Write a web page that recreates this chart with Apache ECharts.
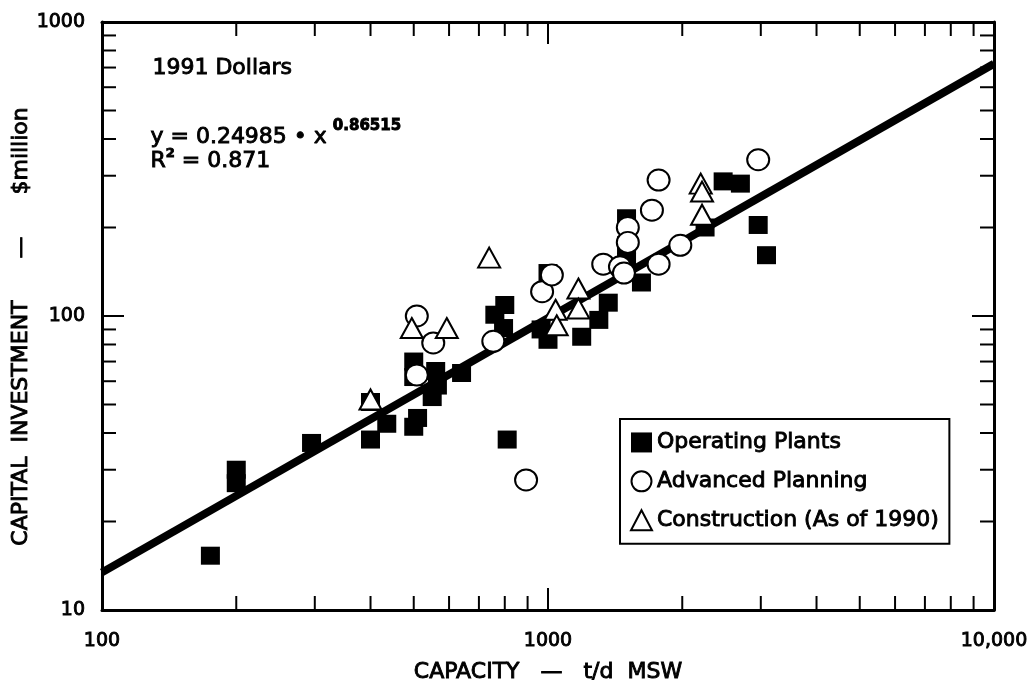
<!DOCTYPE html>
<html>
<head>
<meta charset="utf-8">
<script src="https://cdn.jsdelivr.net/npm/echarts@6/dist/echarts.min.js"></script>
<style>
  html, body { margin: 0; padding: 0; background: #fff; }
  #chart { width: 1027px; height: 688px; }
</style>
</head>
<body>
<div id="chart"></div>
<script>
// Capacity (t/d MSW) vs capital investment ($million), 1991 dollars
const operatingPlants = [
  [175, 15.3], [200, 30], [200, 27], [295, 37], [400, 38], [400, 51],
  [435, 43], [500, 42], [510, 45], [500, 70], [500, 62], [560, 65],
  [550, 53], [565, 58], [640, 64], [760, 101], [800, 109], [795, 91],
  [810, 38], [1000, 140], [965, 90], [1000, 83], [1190, 85], [1300, 97],
  [1365, 111], [1500, 215], [1500, 174], [1500, 153], [1620, 130],
  [2250, 200], [2470, 287], [2700, 282], [2960, 204], [3090, 161]
];
const advancedPlanning = [
  [508, 100], [508, 63], [553, 81], [754, 82], [893, 27.7], [970, 121],
  [1020, 138], [1330, 150], [1450, 147], [1480, 140], [1510, 200],
  [1510, 178], [1710, 229], [1770, 290], [1770, 150], [1980, 174], [2960, 340]
];
const construction = [
  [400, 52], [495, 91], [593, 91], [738, 158], [1040, 105], [1046, 93],
  [1170, 124], [1170, 106], [2200, 282], [2215, 265], [2215, 221]
];

// Power-law fit printed on the chart: y = a * x^b
const FIT_A = 0.24985;
const FIT_B = 0.86515;
const FIT_R2 = '0.871';

const xRange = [100, 10000];
const yRange = [10, 1000];
const xMinorTicks = [200, 300, 400, 500, 600, 700, 800, 900,
                     2000, 3000, 4000, 5000, 6000, 7000, 8000, 9000];
const yMinorTicks = [20, 30, 40, 50, 60, 70, 80, 90,
                     200, 300, 400, 500, 600, 700, 800, 900];

const seriesNames = ['Operating Plants', 'Advanced Planning', 'Construction (As of 1990)'];

const FONT = 'DejaVu Sans, Verdana, sans-serif';
// thin outline in the text colour gives the heavier type weight
const INK = { color: '#000', fontFamily: FONT, textBorderColor: '#000', textBorderWidth: 0.9 };

const fitLine = xRange.map(x => [x, FIT_A * Math.pow(x, FIT_B)]);

const minorTickData = xMinorTicks.map(v => [v, yRange[0], 0])
  .concat(yMinorTicks.map(v => [xRange[0], v, 1]));

const chart = echarts.init(document.getElementById('chart'), null, { renderer: 'canvas' });

function axisCommon(extra) {
  return Object.assign({
    type: 'log',
    logBase: 10,
    axisLine: { show: true, onZero: false, lineStyle: { color: '#000', width: 3 } },
    axisTick: { show: true, inside: true, length: 22, lineStyle: { color: '#000', width: 2 } },
    splitLine: { show: false },
    minorTick: { show: false },
    axisLabel: { show: false }
  }, extra);
}

const textEl = (left, top, text, rich) => ({
  type: 'text', left: left, top: top, z: 10,
  style: Object.assign({ text: text, fill: '#000', stroke: '#000', lineWidth: 0.9,
                         font: '22px ' + FONT }, rich ? { rich: rich } : {})
});

const eqRich = {
  a: { fontSize: 22, fontFamily: FONT, fill: '#000', lineHeight: 30, verticalAlign: 'bottom' },
  b: { fontSize: 15, fontFamily: FONT, fontWeight: 'bold', fill: '#000', lineHeight: 30,
       verticalAlign: 'top', padding: [0, 0, 0, 6] }
};
const r2Rich = {
  a: { fontSize: 22, fontFamily: FONT, fill: '#000', lineHeight: 25, verticalAlign: 'bottom' },
  b: { fontSize: 13, fontFamily: FONT, fontWeight: 'bold', fill: '#000', lineHeight: 25,
       verticalAlign: 'top' }
};

const option = {
  animation: false,
  backgroundColor: '#fff',
  grid: { left: 102, right: 33, top: 22, bottom: 78, containLabel: false, outerBoundsMode: 'none' },
  xAxis: [
    axisCommon({
      position: 'bottom', min: xRange[0], max: xRange[1],
      name: 'CAPACITY   —   t/d  MSW', nameLocation: 'middle', nameGap: 51,
      nameTextStyle: Object.assign({ fontSize: 22 }, INK),
      axisLabel: Object.assign({
        show: true, margin: 22, fontSize: 19,
        formatter: v => v >= 10000 ? '10,000' : String(v)
      }, INK)
    }),
    axisCommon({ position: 'top', min: xRange[0], max: xRange[1] })
  ],
  yAxis: [
    axisCommon({
      position: 'left', min: yRange[0], max: yRange[1],
      name: 'CAPITAL  INVESTMENT      —      $million   ', nameLocation: 'middle', nameGap: 70,
      nameRotate: 90, nameMoveOverlap: false,
      nameTextStyle: Object.assign({ fontSize: 22 }, INK),
      axisLabel: Object.assign({ show: true, margin: 17, fontSize: 19,
                                 formatter: v => String(v) }, INK)
    }),
    axisCommon({ position: 'right', min: yRange[0], max: yRange[1] })
  ],
  legend: {
    orient: 'vertical',
    left: 620, top: 419,
    padding: [12, 10, 12, 10],
    itemGap: 16,
    itemWidth: 21, itemHeight: 20,
    borderColor: '#000', borderWidth: 2,
    backgroundColor: '#fff',
    data: seriesNames,
    textStyle: Object.assign({ fontSize: 22, padding: [0, 0, 0, 0] }, INK),
    selectedMode: false
  },
  graphic: [
    textEl(152, 57, '1991 Dollars'),
    textEl(150, 118, '{a|y = 0.24985 • x}{b|' + FIT_B + '}', eqRich),
    textEl(150, 147, '{a|R}{b|2}{a| = ' + FIT_R2 + '}', r2Rich)
  ],
  series: [
    {
      type: 'line', name: 'fit', data: fitLine, xAxisIndex: 0, yAxisIndex: 0,
      showSymbol: false, symbol: 'none', silent: true, z: 1,
      lineStyle: { color: '#000', width: 8 }
    },
    {
      type: 'custom', name: 'minorTicks', data: minorTickData, silent: true, z: 5,
      clip: false,
      encode: { x: 0, y: 1 },
      renderItem: function (params, api) {
        const cs = params.coordSys;
        const kind = api.value(2);
        const L = 14;
        const st = { stroke: '#000', lineWidth: 2 };
        if (kind === 0) {
          const px = api.coord([api.value(0), yRange[0]])[0];
          return { type: 'group', children: [
            { type: 'line', shape: { x1: px, y1: cs.y + cs.height, x2: px, y2: cs.y + cs.height - L }, style: st },
            { type: 'line', shape: { x1: px, y1: cs.y, x2: px, y2: cs.y + L }, style: st }
          ] };
        }
        const py = api.coord([xRange[0], api.value(1)])[1];
        return { type: 'group', children: [
          { type: 'line', shape: { x1: cs.x, y1: py, x2: cs.x + L, y2: py }, style: st },
          { type: 'line', shape: { x1: cs.x + cs.width, y1: py, x2: cs.x + cs.width - L, y2: py }, style: st }
        ] };
      }
    },
    {
      type: 'scatter', name: seriesNames[0], data: operatingPlants, z: 3,
      symbol: 'rect', symbolSize: [19, 18],
      itemStyle: { color: '#000', borderColor: '#000', borderWidth: 0, opacity: 1 }
    },
    {
      type: 'scatter', name: seriesNames[1], data: advancedPlanning, z: 4,
      symbol: 'circle', symbolSize: [22, 21],
      itemStyle: { color: '#fff', borderColor: '#000', borderWidth: 2, opacity: 1 }
    },
    {
      type: 'scatter', name: seriesNames[2], data: construction, z: 4,
      symbol: 'triangle', symbolSize: [22, 20],
      itemStyle: { color: '#fff', borderColor: '#000', borderWidth: 2, opacity: 1 }
    }
  ]
};

chart.setOption(option);
</script>
</body>
</html>
